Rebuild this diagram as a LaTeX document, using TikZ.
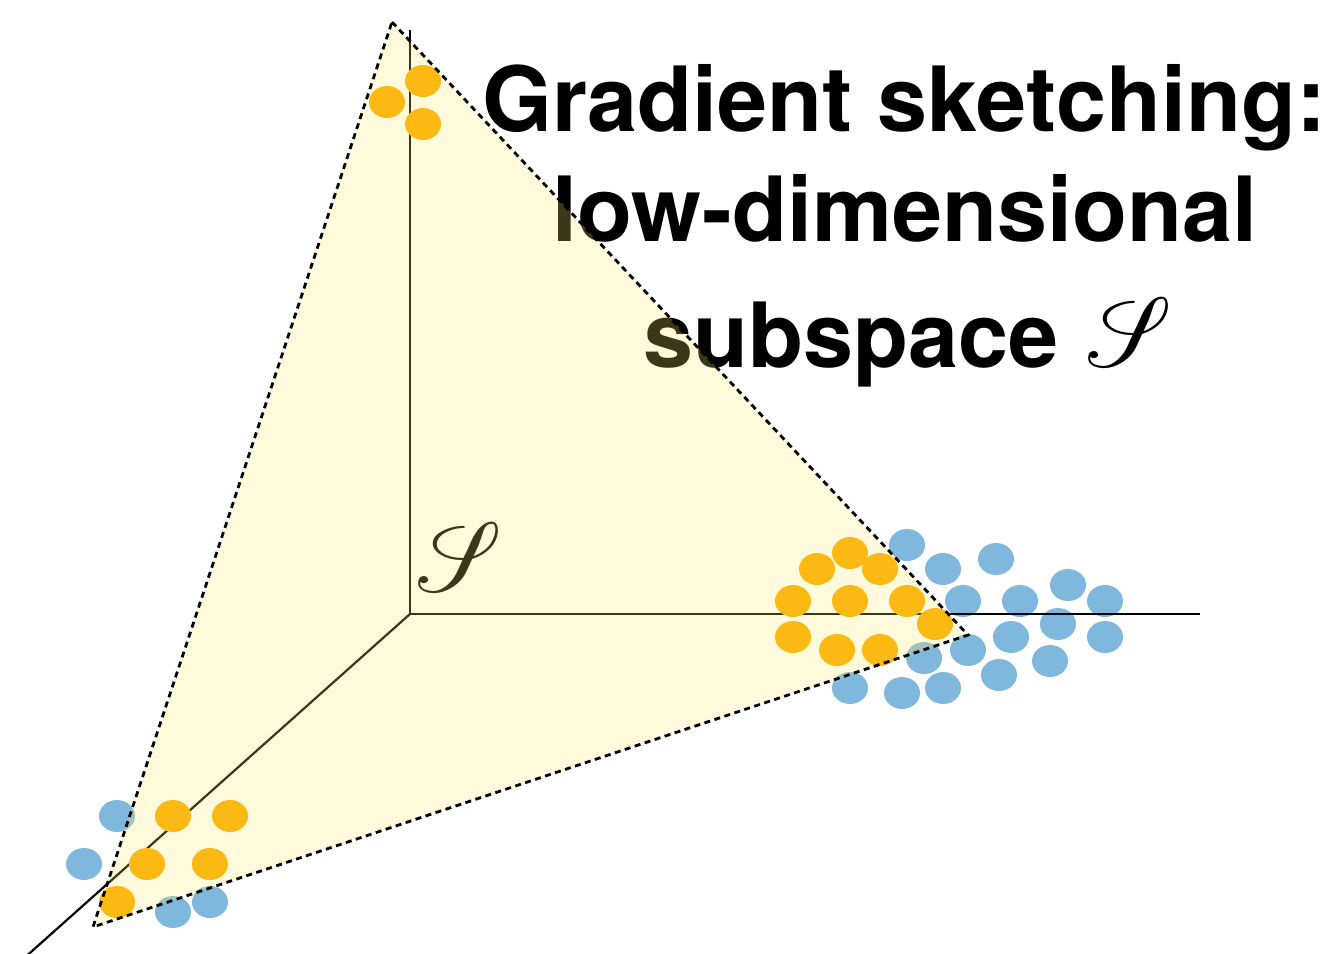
\documentclass[tikz,border=0pt]{standalone}
\usepackage{mathrsfs}
\usepackage{fontspec}
\setmainfont{TeX Gyre Heros}
\definecolor{dotorange}{RGB}{253,185,19}
\definecolor{dotblue}{RGB}{127,184,220}
\definecolor{planefill}{RGB}{255,234,106}
\begin{document}
\begin{tikzpicture}[x=1pt,y=-1pt,
  axis/.style={line width=2.2pt, black},
  border/.style={line width=2.8pt, black, dash pattern=on 6pt off 4.5pt, line join=miter},
  bluedot/.style={fill=dotblue},
  orangedot/.style={fill=dotorange},
  plane/.style={fill=planefill, fill opacity=0.235},
  titletext/.style={anchor=base west, inner sep=0pt, font=\fontsize{90}{100}\selectfont\bfseries},
  scriptS/.style={inner sep=0pt, font=\fontsize{10}{12}\selectfont, xslant=-0.3, scale=9.8}]
\useasboundingbox (0,0) rectangle (1338,953);
% key points
\coordinate (O) at (410,614);
\coordinate (Xend) at (1200,614);
\coordinate (Yend) at (410,30);
\coordinate (Zend) at (22,960);
\coordinate (A) at (392,22);
\coordinate (B) at (968,635);
\coordinate (C) at (93,927);
% blue dots
\foreach \x/\y in {907/545, 943/569, 996/559, 963/601, 1020/601, 1068/585, 1105/601,
  1058/624, 1105/637, 1011/637, 968/650, 924/658, 1050/661, 999/675, 850/688, 902/693, 943/688,
  117/816, 84/864, 173/912, 210/902}
  \fill[bluedot] (\x,\y) ellipse [x radius=18pt, y radius=16pt];
% axes
\draw[axis] (O) -- (Xend);
\draw[axis] (O) -- (Yend);
\draw[axis] (O) -- (Zend);
% texts
\node[titletext] (t1) at (482,131) {Gradient sketching:};
\node[titletext] (t2) at (552,241) {low-dimensional};
\node[titletext] (t3) at (643,367) {subspace};
\node[scriptS] (s2) at (1129,332) {$\mathscr{S}$};
\node[scriptS] (s1) at (459,557) {$\mathscr{S}$};
% plane
\fill[plane] (A) -- (B) -- (C) -- cycle;
% orange dots
\foreach \x/\y in {387/102, 423/81, 423/124,
  850/553, 817/569, 880/569, 793/601, 850/601, 907/601, 935/624, 793/637, 837/650, 880/650,
  173/816, 230/816, 147/864, 210/864, 117/902}
  \fill[orangedot] (\x,\y) ellipse [x radius=18pt, y radius=16pt];
% plane border
\draw[border] (A) -- (B) -- (C) -- cycle;
\end{tikzpicture}
\end{document}
